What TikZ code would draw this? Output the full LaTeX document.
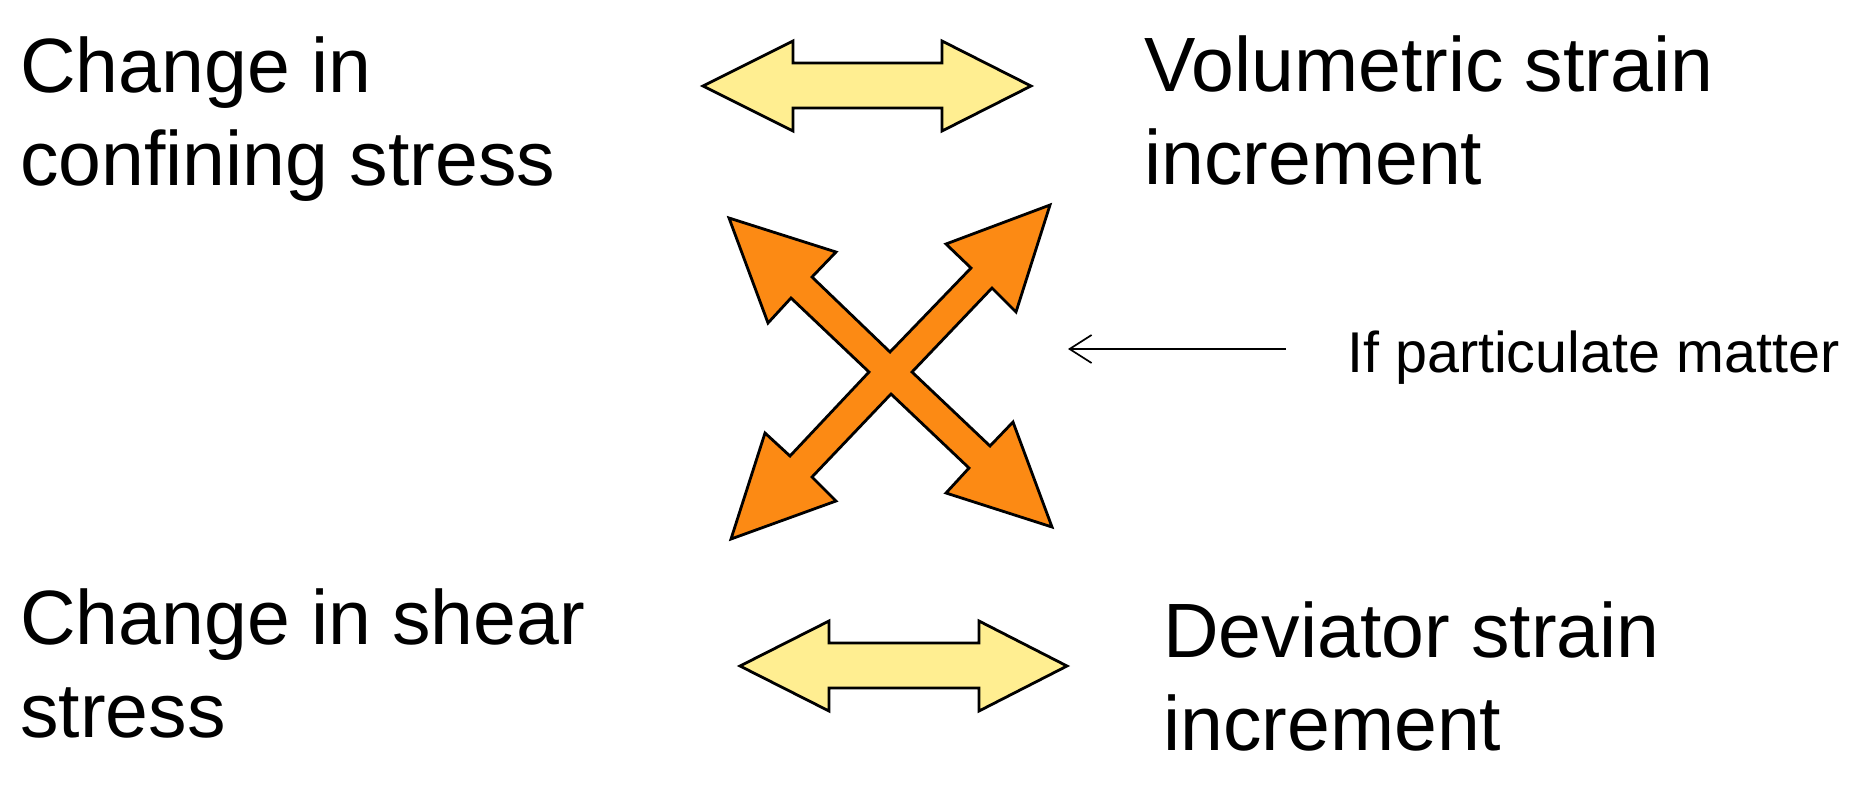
\documentclass[tikz,border=0pt]{standalone}
\usepackage{fontspec}
\setmainfont{Liberation Sans}
\usetikzlibrary{arrows.meta}
\definecolor{lightyellow}{RGB}{255,238,145}
\definecolor{crossorange}{RGB}{252,138,20}
\begin{document}
\begin{tikzpicture}[x=1pt,y=-1pt,
  bigtext/.style={anchor=base west, inner sep=0pt, align=left, font=\fontsize{77}{93}\selectfont},
  smalltext/.style={anchor=base west, inner sep=0pt, font=\fontsize{57.5}{68}\selectfont},
  dblarrow/.style={draw=black, line width=2.8pt, fill=lightyellow, line join=miter},
  crossarrow/.style={draw=black, line width=2.8pt, fill=crossorange, line join=miter},
  thinarrow/.style={draw=black, line width=1.7pt, -{Straight Barb[length=22pt,width=28pt]}}]
\useasboundingbox (0,0) rectangle (1868,796);

% texts (anchor at the baseline of the last line)
\node[bigtext] (tl) at (20,185) {Change in\\confining stress};
\node[bigtext] (tr) at (1144,184) {Volumetric strain\\increment};
\node[bigtext] (bl) at (20,737) {Change in shear\\stress};
\node[bigtext] (br) at (1163,750) {Deviator strain\\increment};
\node[smalltext] (note) at (1347,372) {If particulate matter};

% top double arrow
\draw[dblarrow] (703,86) -- (793,41) -- (793,63) -- (942,63) -- (942,41) -- (1031,86)
  -- (942,131) -- (942,108) -- (793,108) -- (793,131) -- cycle;

% bottom double arrow
\draw[dblarrow] (740,666) -- (829,621) -- (829,643) -- (979,643) -- (979,621) -- (1067,666)
  -- (979,711) -- (979,688) -- (829,688) -- (829,711) -- cycle;

% orange cross of four arrows
\draw[crossarrow] (729,218) -- (836,252) -- (812,277) -- (890,352)
  -- (971,268) -- (946,244) -- (1050,205) -- (1016,312) -- (992,288)
  -- (912,372) -- (990,446) -- (1013,422) -- (1052,527) -- (946,493) -- (969,468)
  -- (891,394) -- (812,477) -- (836,501) -- (731,539) -- (765,433) -- (790,456)
  -- (869,372) -- (791,298) -- (768,323) -- cycle;

% thin arrow
\coordinate (aS) at (1286,349);
\coordinate (aE) at (1068,349);
\draw[thinarrow] (aS) -- (aE);
\end{tikzpicture}
\end{document}
